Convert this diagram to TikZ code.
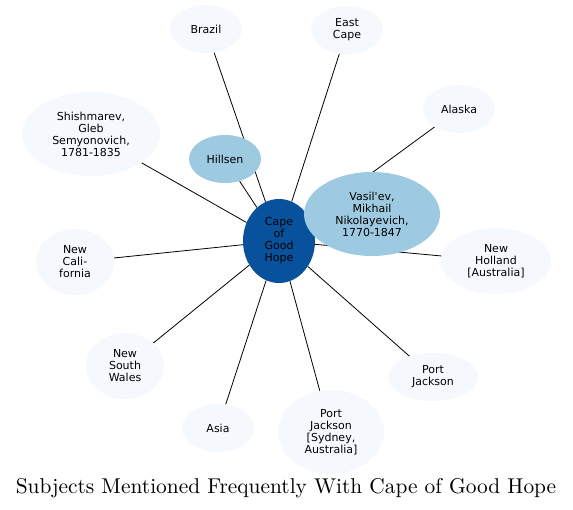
\documentclass[tikz,border=0pt]{standalone}
\usepackage{fontspec}
\newfontfamily\labelfont{DejaVu Sans}
\usetikzlibrary{shapes.geometric,backgrounds}
\definecolor{hubblue}{HTML}{08519C}
\definecolor{midblue}{HTML}{9ECAE1}
\definecolor{paleblue}{HTML}{F5F9FE}
\begin{document}
\begin{tikzpicture}[
  x=1pt,y=-1pt,
  subject/.style={ellipse,inner sep=0pt,align=center,font=\labelfont\fontsize{11}{12}\selectfont,fill=paleblue},
  link/.style={draw,line width=0.8pt}
]
  \useasboundingbox (0,0) rectangle (573,510);
  \node[subject,fill=hubblue,minimum width=72,minimum height=84] (cape) at (279,241) {Cape\\of\\Good\\Hope};
  \node[subject,minimum width=72,minimum height=48] (brazil) at (206,29) {Brazil};
  \node[subject,minimum width=72,minimum height=48] (eastcape) at (347,30) {East\\Cape};
  \node[subject,minimum width=72,minimum height=48] (alaska) at (459,109) {Alaska};
  \node[subject,minimum width=138,minimum height=84] (shishmarev) at (91,134) {Shishmarev,\\Gleb\\Semyonovich,\\1781-1835};
  \node[subject,fill=midblue,minimum width=72,minimum height=48] (hillsen) at (225,159) {Hillsen};
  \node[subject,fill=midblue,minimum width=136,minimum height=84] (vasilev) at (372,214) {Vasil'ev,\\Mikhail\\Nikolayevich,\\1770-1847};
  \node[subject,minimum width=78,minimum height=66] (california) at (75,262) {New\\Cali-\\fornia};
  \node[subject,minimum width=110,minimum height=66] (holland) at (496,261) {New\\Holland\\{[Australia]}};
  \node[subject,minimum width=78,minimum height=66] (wales) at (125,366) {New\\South\\Wales};
  \node[subject,minimum width=90,minimum height=48] (jackson) at (433,377) {Port\\Jackson};
  \node[subject,minimum width=72,minimum height=48] (asia) at (218,428) {Asia};
  \node[subject,minimum width=106,minimum height=84] (sydney) at (331,432) {Port\\Jackson\\{[Sydney,}\\Australia]};
  \node[font=\fontsize{10}{12}\selectfont,scale=2.14,transform shape] (title) at (286,488) {Subjects Mentioned Frequently With Cape of Good Hope};

  \begin{scope}[on background layer]
  \path[link]
    (cape) -- (brazil)
    (cape) -- (eastcape)
    (cape) -- (alaska)
    (cape) -- (shishmarev)
    (cape) -- (hillsen)
    (cape) -- (vasilev)
    (cape) -- (california)
    (cape) -- (holland)
    (cape) -- (wales)
    (cape) -- (jackson)
    (cape) -- (asia)
    (cape) -- (sydney);
  \end{scope}
\end{tikzpicture}
\end{document}
